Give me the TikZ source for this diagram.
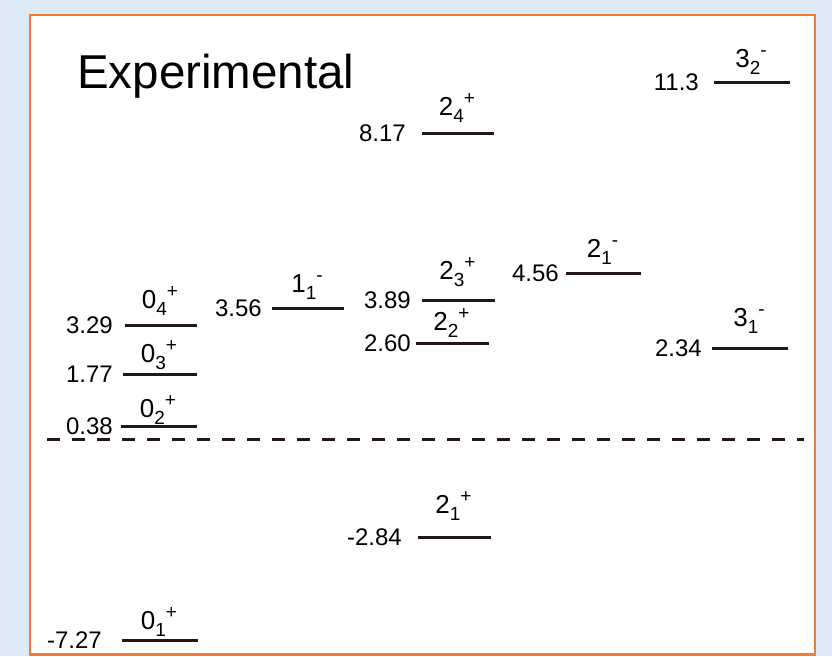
\documentclass[tikz,border=0pt]{standalone}
\usepackage{fontspec}
\setmainfont{Liberation Sans}
\usepackage{xcolor}
\usepackage{tikz}
\usetikzlibrary{positioning, calc}
\definecolor{bgblue}{RGB}{222,234,246}
\definecolor{frameorange}{RGB}{237,125,49}
\definecolor{inkblack}{RGB}{35,24,21}
\newcommand{\jpi}[3]{#1\raisebox{-0.3em}{\fontsize{19}{19}\selectfont #2}\raisebox{0.42em}{\fontsize{19}{19}\selectfont #3}}
\tikzset{
  panel/.style={draw=frameorange, line width=2.5pt, fill=white},
  level/.style={draw=inkblack, line width=3pt},
  energy/.style={inner sep=0pt, font=\fontsize{24}{24}\selectfont},
  state/.style={inner sep=0pt, anchor=base, font=\fontsize{26}{26}\selectfont},
  cutoff/.style={draw=inkblack, line width=3pt, dash pattern=on 13pt off 12pt}
}

\begin{document}
\begin{tikzpicture}[x=1pt, y=-1pt]
  \useasboundingbox (0,0) rectangle (832,656);
  \fill[bgblue] (0,0) rectangle (832,656);
  \draw[panel] (30,15) rectangle (815,654.5);

  \node[anchor=base west, inner sep=0pt, font=\fontsize{47.5}{47.5}\selectfont] (title) at (77,88) {Experimental};

  % threshold
  \coordinate (thr-l) at (47,439);
  \coordinate (thr-r) at (804,439);
  \draw[cutoff] (thr-l) -- (thr-r);

  % levels: name / left / right / height / energy / gap / state / lift
  \foreach \n/\xl/\xr/\y/\e/\g/\j/\dy in {
      p4/125/197/325/3.29/12/{\jpi{0}{4}{+}}/17,
      p3/123/197/374/1.77/10/{\jpi{0}{3}{+}}/12,
      p2/121/197/426/0.38/8/{\jpi{0}{2}{+}}/9,
      p1/122/198/640/-7.27/20/{\jpi{0}{1}{+}}/11,
      m1/272/344/308/3.56/10/{\jpi{1}{1}{-}}/16,
      q3/422/495/300/3.89/11/{\jpi{2}{3}{+}}/21,
      q2/416/489/343/2.60/5/{\jpi{2}{2}{+}}/13,
      q4/422/494/133/8.17/16/{\jpi{2}{4}{+}}/18,
      q1/418/491/537/-2.84/16/{\jpi{2}{1}{+}}/24,
      n1/566/641/273/4.56/7/{\jpi{2}{1}{-}}/16,
      t1/712/788/348/2.34/10/{\jpi{3}{1}{-}}/22,
      t2/714/790/82/11.3/15/{\jpi{3}{2}{-}}/15}
  {
    \coordinate (\n-l) at (\xl,\y);
    \coordinate (\n-r) at (\xr,\y);
    \draw[level] (\n-l) -- (\n-r);
    \node[energy, left=\g pt of \n-l] (\n-e) {\e};
    \node[state] (\n-j) at ($(\n-l)!0.5!(\n-r) + (-1,-\dy)$) {\j};
  }
\end{tikzpicture}
\end{document}
